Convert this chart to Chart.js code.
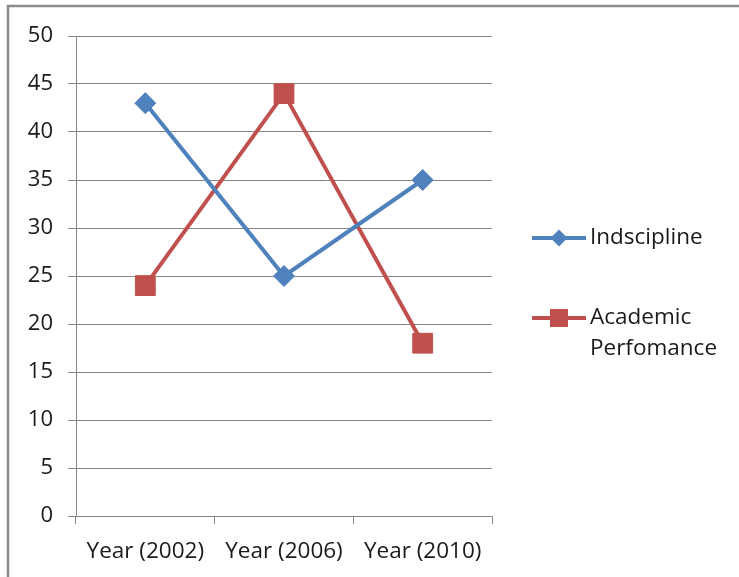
<!DOCTYPE html>
<html>
<head>
<meta charset="utf-8">
<script src="https://cdn.jsdelivr.net/npm/chart.js@4/dist/chart.umd.min.js"></script>
<style>
html,body{margin:0;padding:0;background:#fff;}
#wrap{position:relative;width:739px;height:577px;}
</style>
</head>
<body>
<div id="wrap"><canvas id="c" width="739" height="577"></canvas></div>
<script>
const categories = ['Year (2002)', 'Year (2006)', 'Year (2010)'];
const seriesNames = ['Indscipline', 'Academic Perfomance'];
const indscipline = [43, 25, 35];
const academicPerformance = [24, 44, 18];
const yTicks = [0, 5, 10, 15, 20, 25, 30, 35, 40, 45, 50];

const FONT = '"Open Sans", sans-serif';
const BLUE = '#4F81BD';
const RED = '#C0504D';
const GRID = '#868686';

const frameAndLegend = {
  id: 'frameAndLegend',
  beforeDraw(chart) {
    const ctx = chart.ctx;
    ctx.save();
    ctx.fillStyle = '#fff';
    ctx.fillRect(0, 0, chart.width, chart.height);
    ctx.strokeStyle = '#8a8a8a';
    ctx.lineWidth = 2.5;
    ctx.beginPath();
    ctx.moveTo(8, chart.height + 5);
    ctx.lineTo(8, 6);
    ctx.lineTo(chart.width + 5, 6);
    ctx.stroke();
    ctx.restore();
  },
  afterDraw(chart) {
    const ctx = chart.ctx;
    const ys = [238, 318];
    const x0 = 532, x1 = 586, tx = 590;
    ctx.save();
    chart.data.datasets.forEach((ds, i) => {
      const y = ys[i];
      ctx.strokeStyle = ds.borderColor;
      ctx.lineWidth = 4;
      ctx.beginPath();
      ctx.moveTo(x0, y);
      ctx.lineTo(x1, y);
      ctx.stroke();
      const cx = (x0 + x1) / 2;
      ctx.fillStyle = ds.backgroundColor;
      ctx.beginPath();
      if (ds.pointStyle === 'rectRot') {
        const s = 8.5;
        ctx.moveTo(cx, y - s); ctx.lineTo(cx + s, y); ctx.lineTo(cx, y + s); ctx.lineTo(cx - s, y);
        ctx.closePath();
      } else {
        const s = 9;
        ctx.rect(cx - s, y - s, 2 * s, 2 * s);
      }
      ctx.fill();
      ctx.fillStyle = '#1a1a1a';
      ctx.font = '22.5px ' + FONT;
      ctx.textBaseline = 'middle';
      ctx.textAlign = 'left';
      const maxW = 140;
      const words = ds.label.split(' ');
      const lines = [];
      let cur = '';
      words.forEach(w => {
        const t = cur ? cur + ' ' + w : w;
        if (ctx.measureText(t).width > maxW && cur) { lines.push(cur); cur = w; }
        else cur = t;
      });
      if (cur) lines.push(cur);
      lines.forEach((ln, k) => ctx.fillText(ln, tx, y + k * 31));
    });
    ctx.restore();
  }
};

new Chart(document.getElementById('c'), {
  type: 'line',
  data: {
    labels: categories,
    datasets: [
      {
        label: seriesNames[0],
        data: indscipline,
        borderColor: BLUE,
        backgroundColor: BLUE,
        borderWidth: 4,
        pointStyle: 'rectRot',
        pointRadius: 10.5,
        pointBorderWidth: 1,
        pointHoverRadius: 10.5,
        tension: 0
      },
      {
        label: seriesNames[1],
        data: academicPerformance,
        borderColor: RED,
        backgroundColor: RED,
        borderWidth: 4,
        pointStyle: 'rect',
        pointRadius: 14,
        pointBorderWidth: 1,
        pointHoverRadius: 14,
        tension: 0
      }
    ]
  },
  options: {
    responsive: false,
    animation: false,
    devicePixelRatio: 1,
    layout: { padding: { left: 0, top: 36, right: 247, bottom: 0 } },
    plugins: {
      legend: { display: false },
      tooltip: { enabled: false },
      title: { display: false }
    },
    scales: {
      x: {
        type: 'category',
        offset: true,
        afterFit(scale) { scale.height = 61; },
        grid: {
          offset: true,
          drawOnChartArea: false,
          drawTicks: true,
          tickLength: 8,
          color: GRID,
          lineWidth: 1
        },
        border: { display: true, color: GRID, width: 1 },
        ticks: {
          color: '#1a1a1a',
          font: { family: FONT, size: 22.5 },
          padding: 14,
          maxRotation: 0,
          autoSkip: false
        }
      },
      y: {
        min: 0,
        max: 50,
        afterFit(scale) { scale.width = 76; },
        afterBuildTicks(scale) { scale.ticks = yTicks.map(v => ({ value: v })); },
        grid: {
          drawOnChartArea: true,
          drawTicks: true,
          tickLength: 8,
          color: GRID,
          lineWidth: 1
        },
        border: { display: true, color: GRID, width: 1 },
        ticks: {
          color: '#1a1a1a',
          font: { family: FONT, size: 22 },
          padding: 15
        }
      }
    }
  },
  plugins: [frameAndLegend]
});
</script>
</body>
</html>
